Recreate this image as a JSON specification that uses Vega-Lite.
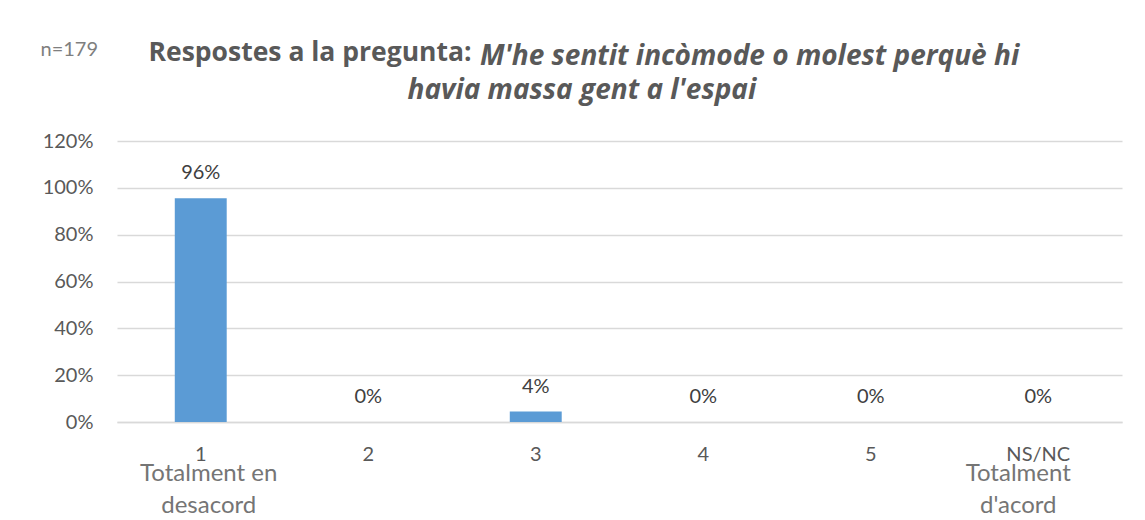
{
  "$schema": "https://vega.github.io/schema/vega-lite/v6.json",
  "width": 1005,
  "height": 281,
  "autosize": {"type": "none"},
  "padding": {"left": 117, "top": 141, "right": 23, "bottom": 98},
  "background": "white",
  "config": {"view": {"stroke": null}},
  "title": {
    "text": "M'he sentit incòmode o molest perquè hi",
    "anchor": "start",
    "frame": "group",
    "dx": 363,
    "dy": 32,
    "offset": 0,
    "font": "Open Sans",
    "fontSize": 28,
    "fontWeight": "bold",
    "fontStyle": "italic",
    "color": "#595959"
  },
  "data": {
    "values": [
      {"resposta": "1", "pct": 0.9553},
      {"resposta": "2", "pct": 0},
      {"resposta": "3", "pct": 0.0447},
      {"resposta": "4", "pct": 0},
      {"resposta": "5", "pct": 0},
      {"resposta": "NS/NC", "pct": 0}
    ]
  },
  "layer": [
    {
      "mark": {"type": "bar", "color": "#5B9BD5"},
      "encoding": {
        "x": {
          "field": "resposta",
          "type": "nominal",
          "sort": null,
          "scale": {"paddingInner": 0.69, "paddingOuter": 0.345},
          "axis": {
            "orient": "bottom",
            "labelAngle": 0,
            "labelFont": "Lato",
            "labelFontSize": 20,
            "labelColor": "#595959",
            "labelPadding": 22,
            "ticks": false,
            "tickSize": 0,
            "domainColor": "#D9D9D9",
            "domainWidth": 1.5,
            "grid": false,
            "title": "Respostes a la pregunta:",
            "titleFont": "Open Sans",
            "titleFontSize": 26.5,
            "titleFontWeight": "bold",
            "titleColor": "#595959",
            "titleAlign": "left",
            "titleAnchor": "start",
            "titleBaseline": "alphabetic",
            "titleX": 31,
            "titleY": -362
          }
        },
        "y": {
          "field": "pct",
          "type": "quantitative",
          "scale": {"domain": [0, 1.2]},
          "axis": {
            "values": [0, 0.2, 0.4, 0.6, 0.8, 1.0, 1.2],
            "format": ".0%",
            "labelFont": "Lato",
            "labelFontSize": 20,
            "labelColor": "#595959",
            "labelPadding": 24,
            "ticks": false,
            "tickSize": 0,
            "domain": false,
            "grid": true,
            "gridColor": "#D9D9D9",
            "gridWidth": 1.5,
            "title": "n=179",
            "titleFont": "Lato",
            "titleFontSize": 20,
            "titleFontWeight": "normal",
            "titleColor": "#7F7F7F",
            "titleAngle": 0,
            "titleAlign": "left",
            "titleBaseline": "alphabetic",
            "titleX": -77,
            "titleY": -86
          }
        }
      }
    },
    {
      "mark": {"type": "text", "font": "Lato", "fontSize": 20, "color": "#404040", "baseline": "alphabetic", "dy": -19},
      "encoding": {
        "x": {
          "field": "resposta",
          "type": "nominal",
          "sort": null,
          "axis": {
            "orient": "bottom",
            "labelAngle": 0,
            "labelExpr": "datum.value == '1' ? ['Totalment en', 'desacord'] : (datum.value == 'NS/NC' ? ['Totalment', \"d'acord\"] : '')",
            "labelFont": "Lato",
            "labelFontSize": 24,
            "labelLineHeight": 32,
            "labelColor": "#757575",
            "labelPadding": 39,
            "labelOffset": {"condition": {"test": "datum.value == 'NS/NC'", "value": -20}, "value": 8},
            "ticks": false,
            "tickSize": 0,
            "domain": false,
            "grid": false,
            "title": "havia massa gent a l'espai",
            "titleFont": "Open Sans",
            "titleFontSize": 28,
            "titleFontWeight": "bold",
            "titleFontStyle": "italic",
            "titleColor": "#595959",
            "titleAlign": "left",
            "titleAnchor": "start",
            "titleBaseline": "alphabetic",
            "titleX": 290,
            "titleY": -324
          }
        },
        "y": {"field": "pct", "type": "quantitative"},
        "text": {"field": "pct", "type": "quantitative", "format": ".0%"}
      }
    }
  ],
  "resolve": {"axis": {"x": "independent"}}
}
